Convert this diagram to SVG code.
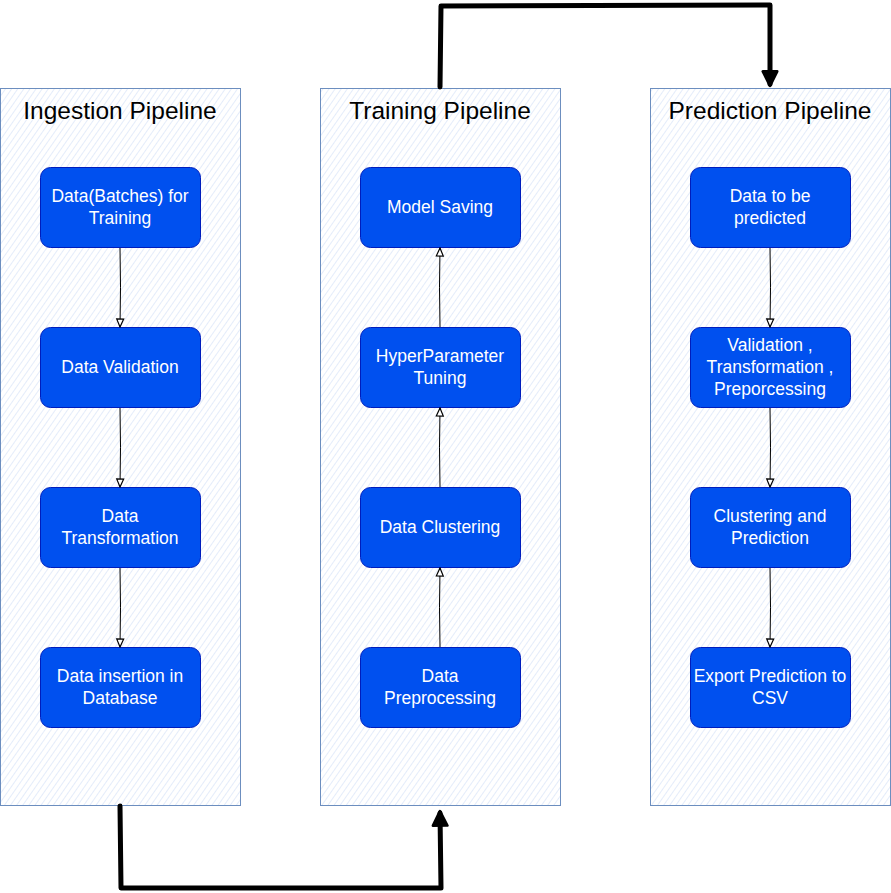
<svg xmlns="http://www.w3.org/2000/svg" width="891" height="893" viewBox="0 0 891 893">
<defs>
<pattern id="hatch" patternUnits="userSpaceOnUse" width="5" height="5" patternTransform="rotate(35)">
<rect width="5" height="5" fill="#ffffff"/>
<line x1="0" y1="0" x2="0" y2="5" stroke="#dde8f9" stroke-width="1.6"/>
</pattern>
<marker id="open" viewBox="0 0 10 10" refX="9" refY="5" markerWidth="10" markerHeight="10" orient="auto" markerUnits="userSpaceOnUse">
<path d="M1,1.5 L9,5 L1,8.5 Z" fill="#ffffff" stroke="#000000" stroke-width="1.2"/>
</marker>
<marker id="bold" viewBox="0 0 10 10" refX="8" refY="5" markerWidth="18" markerHeight="18" orient="auto" markerUnits="userSpaceOnUse">
<path d="M1,1 L9,5 L1,9 Z" fill="#000000" stroke="#000000" stroke-width="1.5" stroke-linejoin="round"/>
</marker>
</defs>
<style>
.pipe{fill:url(#hatch);stroke:#6c8ebf;stroke-width:1}
.title{font-family:"Liberation Sans",Arial,sans-serif;font-size:24.5px;fill:#000000;text-anchor:middle}
.node rect{fill:#0050ef;stroke:#001dbc;stroke-width:1}
.node text{font-family:"Liberation Sans",Arial,sans-serif;font-size:17.5px;fill:#ffffff;text-anchor:middle}
.thin{fill:none;stroke:#000000;stroke-width:1;marker-end:url(#open)}
.thick{fill:none;stroke:#000000;stroke-width:5;stroke-linejoin:round;stroke-linecap:round;marker-end:url(#bold)}
</style>
<g id="ingestion">
<rect class="pipe" x="0.5" y="88.5" width="240" height="717"/>
<text class="title" x="120" y="119">Ingestion Pipeline</text>
</g>
<g id="training">
<rect class="pipe" x="320.5" y="88.5" width="240" height="717"/>
<text class="title" x="440" y="119">Training Pipeline</text>
</g>
<g id="prediction">
<rect class="pipe" x="650.5" y="88.5" width="240" height="717"/>
<text class="title" x="770" y="119">Prediction Pipeline</text>
</g>
<g id="i1" class="node"><rect x="40.5" y="167.5" width="160" height="80" rx="10"/><text x="120" y="202">Data(Batches) for</text><text x="120" y="224">Training</text></g>
<g id="i2" class="node"><rect x="40.5" y="327.5" width="160" height="80" rx="10"/><text x="120" y="373">Data Validation</text></g>
<g id="i3" class="node"><rect x="40.5" y="487.5" width="160" height="80" rx="10"/><text x="120" y="522">Data</text><text x="120" y="544">Transformation</text></g>
<g id="i4" class="node"><rect x="40.5" y="647.5" width="160" height="80" rx="10"/><text x="120" y="682">Data insertion in</text><text x="120" y="704">Database</text></g>
<g id="t1" class="node"><rect x="360.5" y="167.5" width="160" height="80" rx="10"/><text x="440" y="213">Model Saving</text></g>
<g id="t2" class="node"><rect x="360.5" y="327.5" width="160" height="80" rx="10"/><text x="440" y="362">HyperParameter</text><text x="440" y="384">Tuning</text></g>
<g id="t3" class="node"><rect x="360.5" y="487.5" width="160" height="80" rx="10"/><text x="440" y="533">Data Clustering</text></g>
<g id="t4" class="node"><rect x="360.5" y="647.5" width="160" height="80" rx="10"/><text x="440" y="682">Data</text><text x="440" y="704">Preprocessing</text></g>
<g id="p1" class="node"><rect x="690.5" y="167.5" width="160" height="80" rx="10"/><text x="770" y="202">Data to be</text><text x="770" y="224">predicted</text></g>
<g id="p2" class="node"><rect x="690.5" y="327.5" width="160" height="80" rx="10"/><text x="770" y="351">Validation ,</text><text x="770" y="373">Transformation ,</text><text x="770" y="395">Preporcessing</text></g>
<g id="p3" class="node"><rect x="690.5" y="487.5" width="160" height="80" rx="10"/><text x="770" y="522">Clustering and</text><text x="770" y="544">Prediction</text></g>
<g id="p4" class="node"><rect x="690.5" y="647.5" width="160" height="80" rx="10"/><text x="770" y="682">Export Prediction to</text><text x="770" y="704">CSV</text></g>
<g id="connectors">
<path class="thin" d="M120,248 Q121,287 120,327"/>
<path class="thin" d="M120,408 Q121,447 120,487"/>
<path class="thin" d="M120,568 Q121,607 120,647"/>
<path class="thin" d="M440,647 Q439,607 440,568"/>
<path class="thin" d="M440,487 Q439,447 440,408"/>
<path class="thin" d="M440,327 Q439,287 440,248"/>
<path class="thin" d="M770,248 Q771,287 770,327"/>
<path class="thin" d="M770,408 Q771,447 770,487"/>
<path class="thin" d="M770,568 Q771,607 770,647"/>
<path class="thick" d="M440,87 L441,6 L770,5 L770,84"/>
<path class="thick" d="M120,806 L121,888 L441,888 L440,813"/>
</g>
</svg>
